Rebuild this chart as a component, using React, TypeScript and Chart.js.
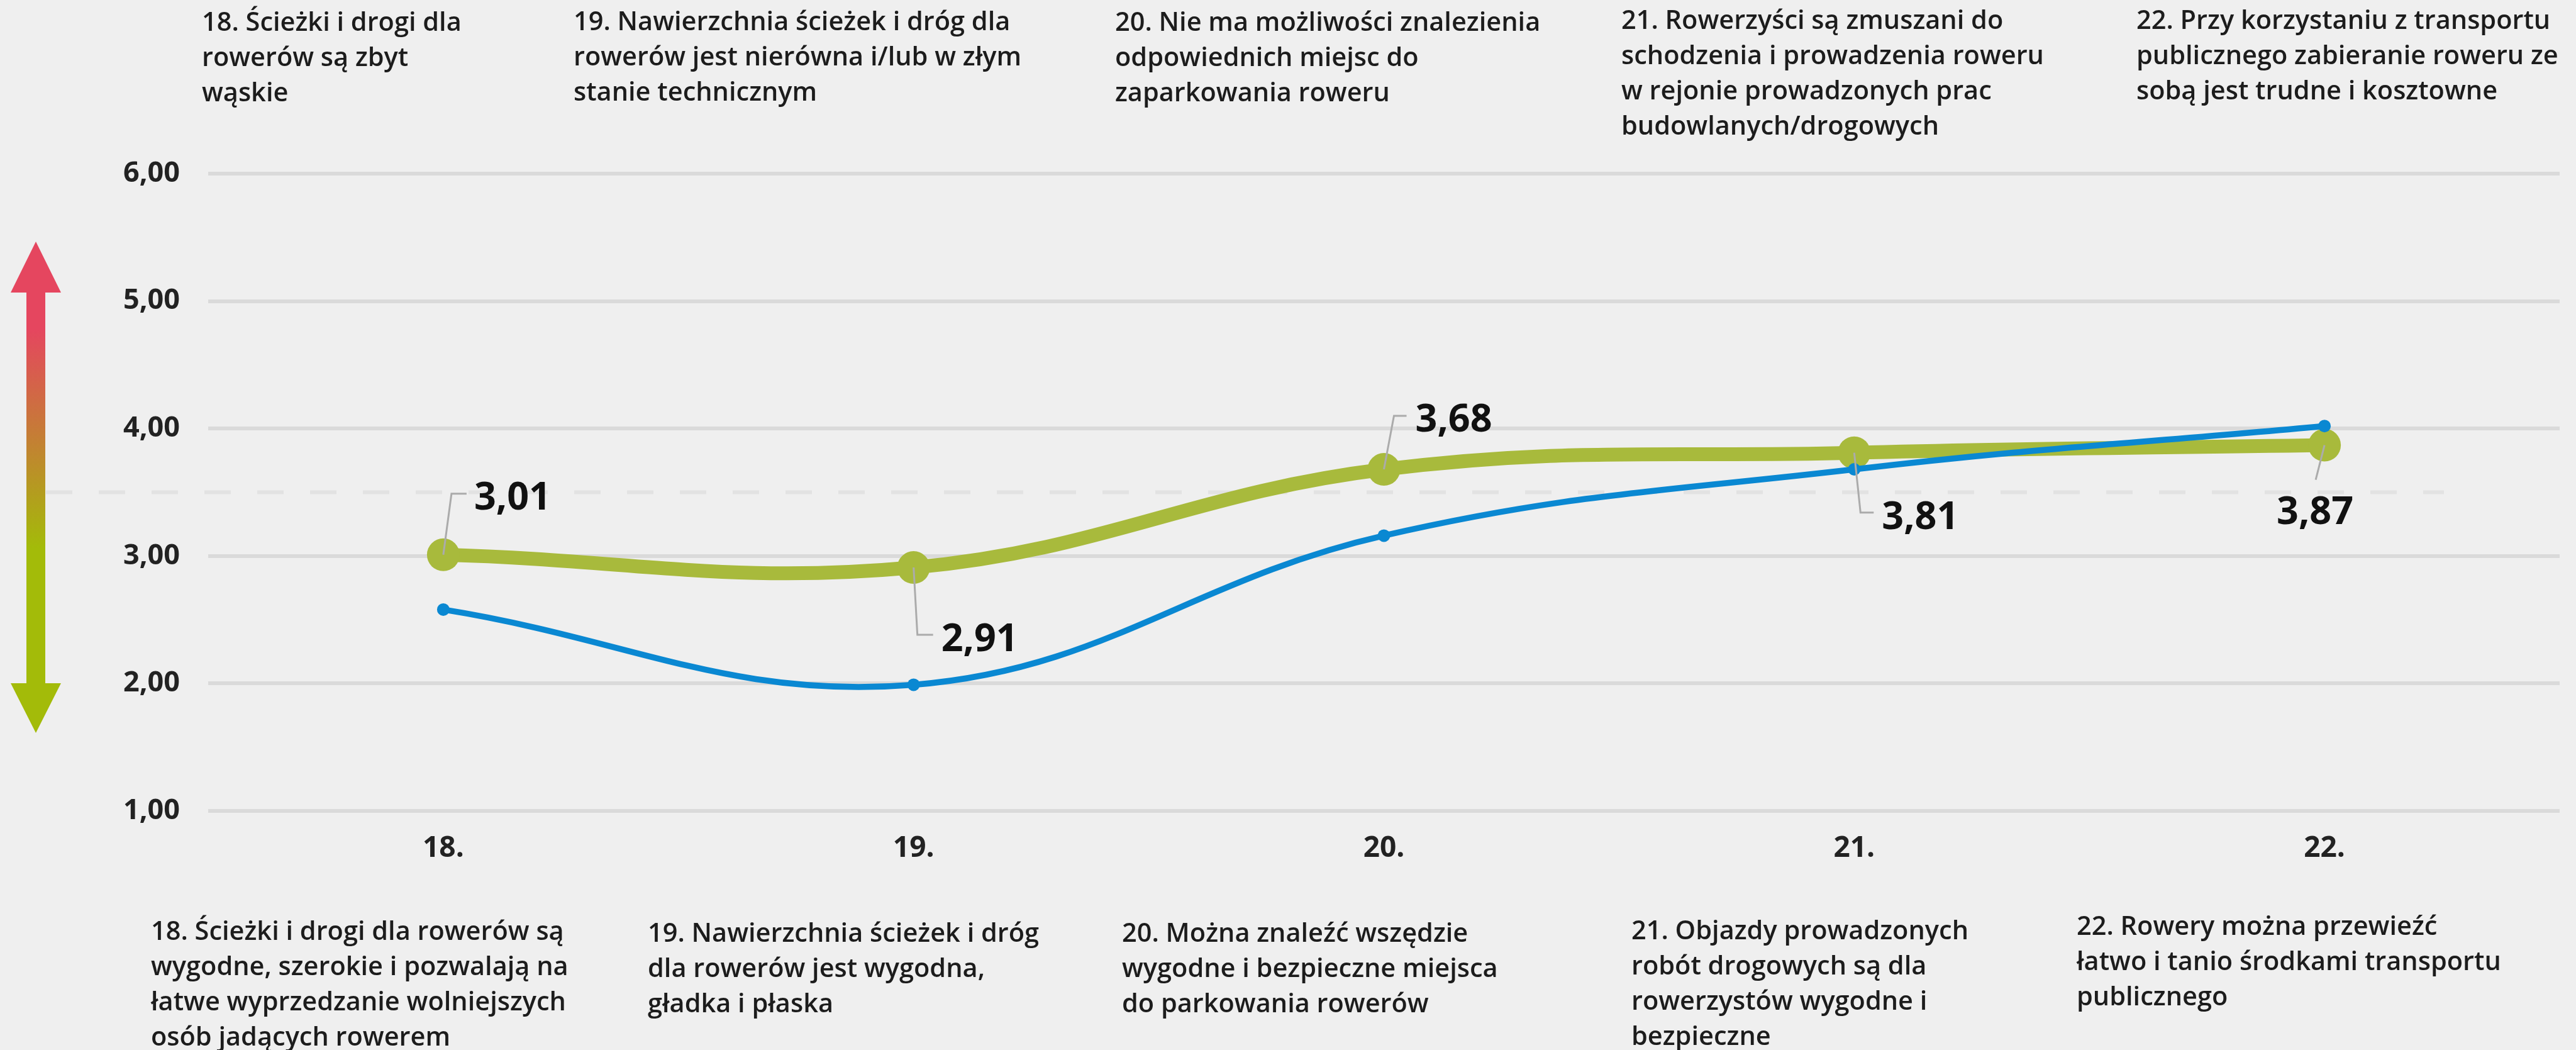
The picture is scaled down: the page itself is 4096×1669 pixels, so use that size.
import { useEffect, useRef } from "react";
import { Chart, registerables } from "chart.js";

Chart.register(...registerables);

// ---------------- data ----------------
const categories = ["18.", "19.", "20.", "21.", "22."];
const greenValues = [3.01, 2.91, 3.68, 3.81, 3.87];
const blueValues = [2.58, 1.99, 3.16, 3.68, 4.02];
const yMin = 1;
const yMax = 6;
const yStep = 1;
const referenceLevel = 3.5;

const topTexts = [
  ["18. Ścieżki i drogi dla", "rowerów są zbyt", "wąskie"],
  ["19. Nawierzchnia ścieżek i dróg dla", "rowerów jest nierówna i/lub w złym", "stanie technicznym"],
  ["20. Nie ma możliwości znalezienia", "odpowiednich miejsc do", "zaparkowania roweru"],
  ["21. Rowerzyści są zmuszani do", "schodzenia i prowadzenia roweru", "w rejonie prowadzonych prac", "budowlanych/drogowych"],
  ["22. Przy korzystaniu z transportu", "publicznego zabieranie roweru ze", "sobą jest trudne i kosztowne"],
];

const bottomTexts = [
  ["18. Ścieżki i drogi dla rowerów są", "wygodne, szerokie i pozwalają na", "łatwe wyprzedzanie wolniejszych", "osób jadących rowerem"],
  ["19. Nawierzchnia ścieżek i dróg", "dla rowerów jest wygodna,", "gładka i płaska"],
  ["20. Można znaleźć wszędzie", "wygodne i bezpieczne miejsca", "do parkowania rowerów"],
  ["21. Objazdy prowadzonych", "robót drogowych są dla", "rowerzystów wygodne i", "bezpieczne"],
  ["22. Rowery można przewieźć", "łatwo i tanio środkami transportu", "publicznego"],
];

// ---------------- layout / style ----------------
const W = 4096;
const H = 1669;
const CHART_LEFT = 331;
const CHART_RIGHT = 4082;
const CHART_TOP = 276;
const CHART_BOTTOM = 1289;

const BG = "#efefef";
const GREEN = "#a8ba3c";
const BLUE = "#0a88d2";
const TEXT = "#1c1c1c";
const FONT = '"Open Sans", "Noto Sans", sans-serif';

const topTextX = [321, 912, 1773, 2578, 3397];
const topBaselineY = [49, 48, 49, 46, 46];
const bottomTextX = [240, 1030, 1784, 2594, 3302];
const bottomBaselineY = [1494, 1497, 1497, 1493, 1486];
const TEXT_LINE_H = 56;
const TEXT_SIZE = 41.5;

// leader lines (relative to point centre, px) and label anchors for the green series
const labelLayout = [
  { leader: [[13, -97], [37, -97]], dx: 49, dy: -72, align: "left" },
  { leader: [[6, 107], [31, 107]], dx: 44, dy: 133, align: "left" },
  { leader: [[16, -85], [36, -85]], dx: 50, dy: -60, align: "left" },
  { leader: [[10, 95], [31, 95]], dx: 44, dy: 121, align: "left" },
  { leader: [[-14, 55]], dx: -15, dy: 125, align: "center" },
];

const fmt = (v: number) => v.toFixed(2).replace(".", ",");

const decorPlugin = {
  id: "decor",
  beforeDraw(chart: any) {
    const ctx = chart.ctx as CanvasRenderingContext2D;
    ctx.save();
    ctx.fillStyle = BG;
    ctx.fillRect(0, 0, chart.width, chart.height);
    ctx.restore();
  },
  beforeDatasetsDraw(chart: any) {
    const ctx = chart.ctx as CanvasRenderingContext2D;
    const y = chart.scales.y.getPixelForValue(referenceLevel);
    ctx.save();
    ctx.strokeStyle = "#e2e2e2";
    ctx.lineWidth = 6;
    ctx.setLineDash([42, 42]);
    ctx.beginPath();
    ctx.moveTo(73, y);
    ctx.lineTo(3886, y);
    ctx.stroke();
    ctx.restore();

    // gradient arrow
    const cx = 57;
    const shaft = 15;
    const head = 40;
    const topTip = 384;
    const topBase = 465;
    const botBase = 1086;
    const botTip = 1165;
    const g = ctx.createLinearGradient(0, 523, 0, 871);
    g.addColorStop(0, "#e5465f");
    g.addColorStop(0.5, "#c47f34");
    g.addColorStop(1, "#a3bb09");
    ctx.save();
    ctx.fillStyle = g;
    ctx.beginPath();
    ctx.moveTo(cx, topTip);
    ctx.lineTo(cx + head, topBase);
    ctx.lineTo(cx + shaft, topBase);
    ctx.lineTo(cx + shaft, botBase);
    ctx.lineTo(cx + head, botBase);
    ctx.lineTo(cx, botTip);
    ctx.lineTo(cx - head, botBase);
    ctx.lineTo(cx - shaft, botBase);
    ctx.lineTo(cx - shaft, topBase);
    ctx.lineTo(cx - head, topBase);
    ctx.closePath();
    ctx.fill();
    ctx.restore();
  },
  afterDatasetsDraw(chart: any) {
    const ctx = chart.ctx as CanvasRenderingContext2D;
    const meta = chart.getDatasetMeta(1);
    ctx.save();
    meta.data.forEach((pt: any, i: number) => {
      const L = labelLayout[i];
      const x = pt.x;
      const y = pt.y;
      ctx.strokeStyle = "#ababab";
      ctx.lineWidth = 3;
      ctx.beginPath();
      ctx.moveTo(x, y);
      L.leader.forEach(([lx, ly]) => ctx.lineTo(x + lx, y + ly));
      ctx.stroke();
      ctx.fillStyle = "#111111";
      ctx.font = `700 61px ${FONT}`;
      ctx.textAlign = L.align as CanvasTextAlign;
      ctx.textBaseline = "alphabetic";
      ctx.fillText(fmt(greenValues[i]), x + L.dx, y + L.dy);
    });
    ctx.restore();
  },
  afterDraw(chart: any) {
    const ctx = chart.ctx as CanvasRenderingContext2D;
    ctx.save();
    ctx.fillStyle = TEXT;
    ctx.font = `600 ${TEXT_SIZE}px ${FONT}`;
    ctx.textAlign = "left";
    ctx.textBaseline = "alphabetic";
    topTexts.forEach((lines, i) =>
      lines.forEach((line, j) => ctx.fillText(line, topTextX[i], topBaselineY[i] + j * TEXT_LINE_H))
    );
    bottomTexts.forEach((lines, i) =>
      lines.forEach((line, j) => ctx.fillText(line, bottomTextX[i], bottomBaselineY[i] + j * TEXT_LINE_H))
    );
    ctx.restore();
  },
};

export default function App() {
  const ref = useRef<HTMLCanvasElement>(null);
  useEffect(() => {
    const canvas = ref.current!;
    const chart = new Chart(canvas, {
      type: "line",
      data: {
        labels: categories,
        datasets: [
          {
            label: "blue",
            data: blueValues,
            borderColor: BLUE,
            backgroundColor: BLUE,
            pointBackgroundColor: BLUE,
            borderWidth: 9.5,
            pointRadius: 10,
            pointBorderWidth: 0,
            tension: 0.4,
            order: 0,
          },
          {
            label: "green",
            data: greenValues,
            borderColor: GREEN,
            backgroundColor: GREEN,
            pointBackgroundColor: GREEN,
            borderWidth: 22,
            pointRadius: 26,
            pointBorderWidth: 0,
            tension: 0.4,
            order: 1,
          },
        ],
      },
      options: {
        responsive: false,
        animation: false,
        devicePixelRatio: 1,
        layout: { padding: { top: CHART_TOP, right: W - CHART_RIGHT, bottom: 0, left: 0 } },
        plugins: { legend: { display: false }, tooltip: { enabled: false } },
        scales: {
          x: {
            type: "category",
            offset: true,
            grid: { display: false, drawTicks: false },
            border: { display: false },
            ticks: {
              padding: 32,
              color: "#222222",
              font: { family: FONT, size: 46, weight: "700" },
              maxRotation: 0,
              autoSkip: false,
            },
            afterFit: (s: any) => {
              s.height = H - CHART_BOTTOM;
            },
          },
          y: {
            min: yMin,
            max: yMax,
            grid: { color: "#dadada", lineWidth: 6, drawTicks: false },
            border: { display: false },
            ticks: {
              stepSize: yStep,
              padding: 45,
              color: "#222222",
              font: { family: FONT, size: 45, weight: "700" },
              callback: (v: any) => fmt(Number(v)),
            },
            afterFit: (s: any) => {
              s.width = CHART_LEFT;
            },
          },
        },
      },
      plugins: [decorPlugin],
    });
    return () => chart.destroy();
  }, []);
  return (
    <div style={{ position: "fixed", left: 0, top: 0, width: W, height: H, background: BG }}>
      <canvas ref={ref} width={W} height={H} style={{ display: "block", width: W, height: H }} />
    </div>
  );
}
